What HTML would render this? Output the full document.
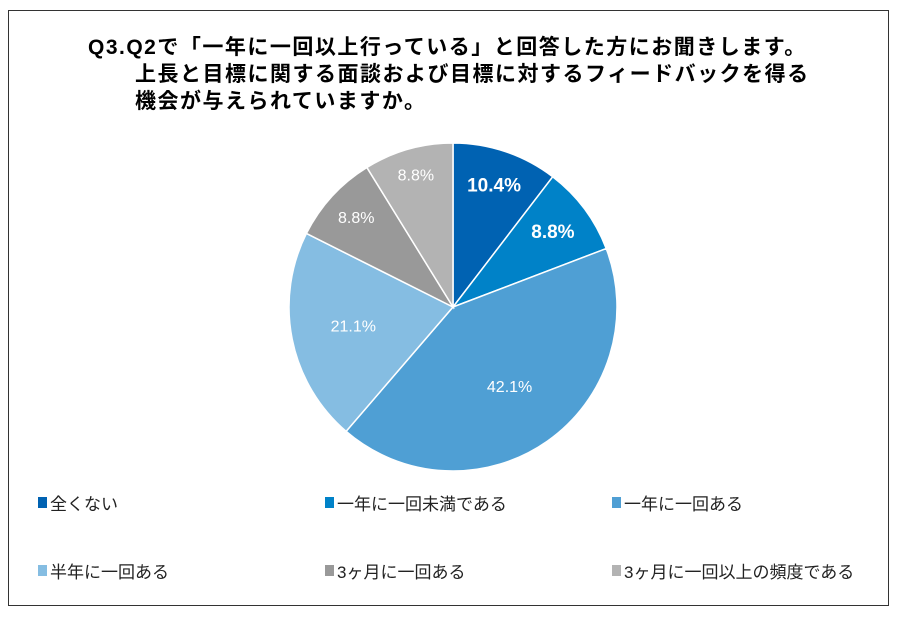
<!DOCTYPE html>
<html><head><meta charset="utf-8"><style>
body{margin:0;background:#fff;}
#c{position:relative;width:897px;height:618px;overflow:hidden;font-family:"Liberation Sans","Noto Sans CJK JP",sans-serif;}
#frame{position:absolute;left:8px;top:10px;width:881px;height:596px;border:1.5px solid #333;box-sizing:border-box;}
.t{position:absolute;font-weight:bold;font-size:21px;letter-spacing:1.5px;color:#000;white-space:nowrap;line-height:24px;}
.lg{position:absolute;font-size:17px;color:#222;white-space:nowrap;display:flex;align-items:center;}
.lg span.m{display:inline-block;width:9px;height:11px;margin-right:3px;}
</style></head><body>
<div id="c">
<div id="frame"></div>
<div class="t" style="left:88px;top:36px">Q3.Q2で「一年に一回以上行っている」と回答した方にお聞きします。</div>
<div class="t" style="left:135px;top:63px">上長と目標に関する面談および目標に対するフィードバックを得る</div>
<div class="t" style="left:135px;top:90px">機会が与えられていますか。</div>
<svg id="pie" width="897" height="618" style="position:absolute;left:0;top:0"></svg>
<div id="legend"></div>
</div>
<script>
const categories=["全くない","一年に一回未満である","一年に一回ある","半年に一回ある","3ヶ月に一回ある","3ヶ月に一回以上の頻度である"];
const values=[10.4,8.8,42.1,21.1,8.8,8.8];
const labels=["10.4%","8.8%","42.1%","21.1%","8.8%","8.8%"];
const colors=["#0062b2","#0082c8","#4f9fd4","#85bde2","#999999","#b3b3b3"];
const bold=[true,true,false,false,false,false];
const labelR=[0.78,0.76,0.6,0.62,0.8,0.83];
const cx=453,cy=307,r=164;
const svg=document.getElementById('pie');
const NS="http://www.w3.org/2000/svg";
const total=values.reduce((a,b)=>a+b,0);
let a0=-Math.PI/2;
values.forEach((v,i)=>{
  const a1=a0+v/total*2*Math.PI;
  const x0=cx+r*Math.cos(a0),y0=cy+r*Math.sin(a0),x1=cx+r*Math.cos(a1),y1=cy+r*Math.sin(a1);
  const p=document.createElementNS(NS,'path');
  p.setAttribute('d',`M${cx},${cy}L${x0},${y0}A${r},${r} 0 ${a1-a0>Math.PI?1:0} 1 ${x1},${y1}Z`);
  p.setAttribute('fill',colors[i]);p.setAttribute('stroke','#fff');p.setAttribute('stroke-width','1.5');
  
  
  svg.appendChild(p);
  const am=(a0+a1)/2,lr=r*labelR[i];
  const t=document.createElementNS(NS,'text');
  t.setAttribute('x',cx+lr*Math.cos(am));t.setAttribute('y',cy+lr*Math.sin(am));
  t.setAttribute('text-anchor','middle');t.setAttribute('dominant-baseline','central');t.setAttribute('fill','#fff');
  t.setAttribute('font-size',bold[i]?'19':'16');t.setAttribute('font-weight',bold[i]?'bold':'normal');
  t.setAttribute('font-family','"Liberation Sans",sans-serif');
  t.textContent=labels[i];
  
  
  svg.appendChild(t);
  a0=a1;
});
const lx=[38,325,612],ly=[490,558];
const lg=document.getElementById('legend');
categories.forEach((c,i)=>{
  const d=document.createElement('div');d.className='lg';
  d.style.left=lx[i%3]+'px';d.style.top=ly[Math.floor(i/3)]+'px';
  d.innerHTML='<span class="m" style="background:'+colors[i]+'"></span>'+c;
  
  
  lg.appendChild(d);
});
</script>
</body></html>
